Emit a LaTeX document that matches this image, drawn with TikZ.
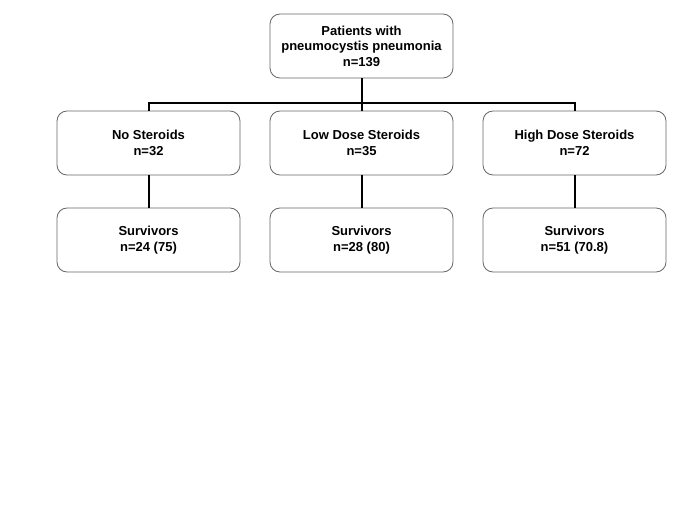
\documentclass[tikz,border=0pt]{standalone}
\usepackage{fontspec}
\setmainfont{Liberation Sans}
\begin{document}
\begin{tikzpicture}[x=1pt,y=1pt,
  box/.style={draw=black!60, line width=0.8pt, rounded corners=10pt, minimum width=183pt, minimum height=64pt, align=center, font=\fontsize{13}{15.5}\selectfont\bfseries, inner sep=2pt},
  link/.style={line width=2pt, black}]
\useasboundingbox (0,0) rectangle (685,-513);
\fill[white] (0,0) rectangle (685,-513);
\node[box] (top) at (361.5,-46) {Patients with\\pneumocystis pneumonia\\n=139};
\node[box] (m1) at (148.5,-143) {No Steroids\\n=32};
\node[box] (m2) at (361.5,-143) {Low Dose Steroids\\n=35};
\node[box] (m3) at (574.5,-143) {High Dose Steroids\\n=72};
\node[box] (b1) at (148.5,-240) {Survivors\\n=24 (75)};
\node[box] (b2) at (361.5,-240) {Survivors\\n=28 (80)};
\node[box] (b3) at (574.5,-240) {Survivors\\n=51 (70.8)};
\draw[link] (top.south) -- (m2.north);
\draw[link] (m1.north) -- ++(0,8) -| (m3.north);
\draw[link] (m1.south) -- (b1.north);
\draw[link] (m2.south) -- (b2.north);
\draw[link] (m3.south) -- (b3.north);
\end{tikzpicture}
\end{document}
